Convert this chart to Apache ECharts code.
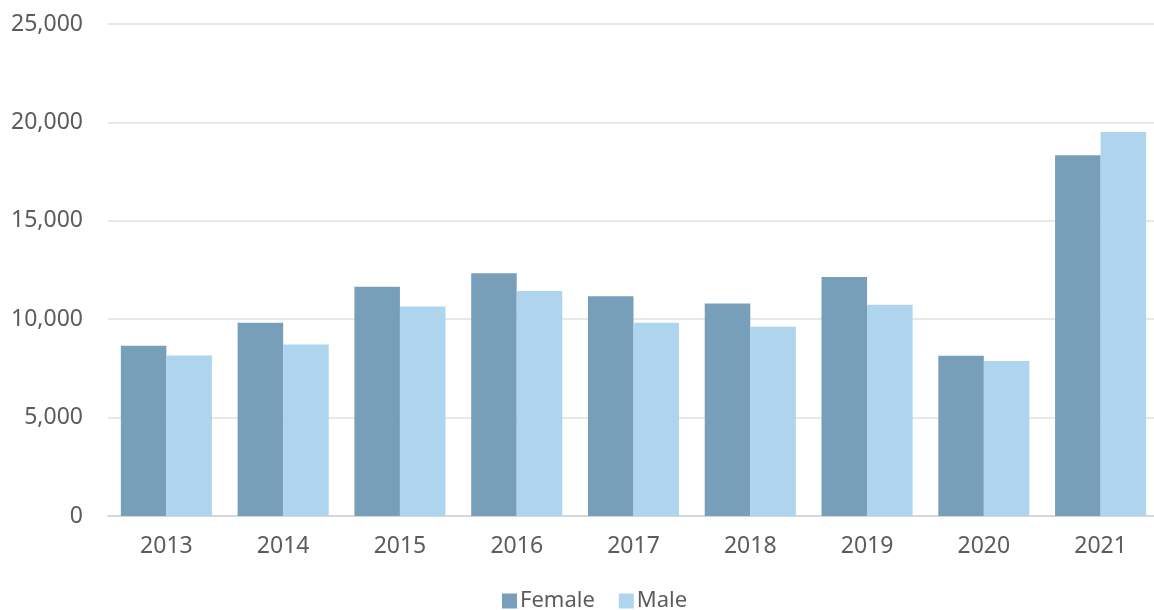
<!DOCTYPE html>
<html>
<head>
<meta charset="utf-8">
<script src="https://cdn.jsdelivr.net/npm/echarts@6/dist/echarts.min.js"></script>
<style>html,body{margin:0;padding:0;background:#fff;overflow:hidden;width:1154px;height:610px;}#c{width:1160px;height:610px;}</style>
</head>
<body>
<div id="c"></div>
<script>
const categories = ['2013','2014','2015','2016','2017','2018','2019','2020','2021'];
const female = [8650, 9820, 11650, 12340, 11160, 10800, 12140, 8140, 18330];
const male = [8150, 8720, 10650, 11430, 9820, 9620, 10730, 7870, 19510];
const seriesNames = ['Female', 'Male'];

const chart = echarts.init(document.getElementById('c'));
const font = '"Noto Sans", sans-serif';
chart.setOption({
  animation: false,
  textStyle: { fontFamily: font },
  grid: { left: 108, top: 24, width: 1051, height: 492, containLabel: false },
  legend: {
    data: seriesNames,
    left: 497, top: 585,
    itemWidth: 15, itemHeight: 15, itemGap: 24,
    icon: 'rect',
    textStyle: { fontSize: 22, color: '#5c5c5c', fontFamily: font, padding: [0,0,0,-2] }
  },
  xAxis: {
    type: 'category', data: categories,
    axisLine: { lineStyle: { color: '#d0d0d0', width: 1.5 } },
    axisTick: { show: false },
    axisLabel: { fontSize: 23, color: '#5c5c5c', margin: 19, fontFamily: font }
  },
  yAxis: {
    type: 'value', min: 0, max: 25000, interval: 5000,
    axisLine: { show: false }, axisTick: { show: false },
    splitLine: { lineStyle: { color: '#e0e0e0', width: 1.5 } },
    axisLabel: { fontSize: 23, color: '#5c5c5c', margin: 25, fontFamily: font,
      formatter: v => v.toLocaleString('en-US') }
  },
  series: [
    { name: seriesNames[0], type: 'bar', data: female, barGap: '0%', barCategoryGap: '22%',
      itemStyle: { color: '#789fb9' } },
    { name: seriesNames[1], type: 'bar', data: male, barGap: '0%', barCategoryGap: '22%',
      itemStyle: { color: '#aed4ee' } }
  ]
});
</script>
</body>
</html>
